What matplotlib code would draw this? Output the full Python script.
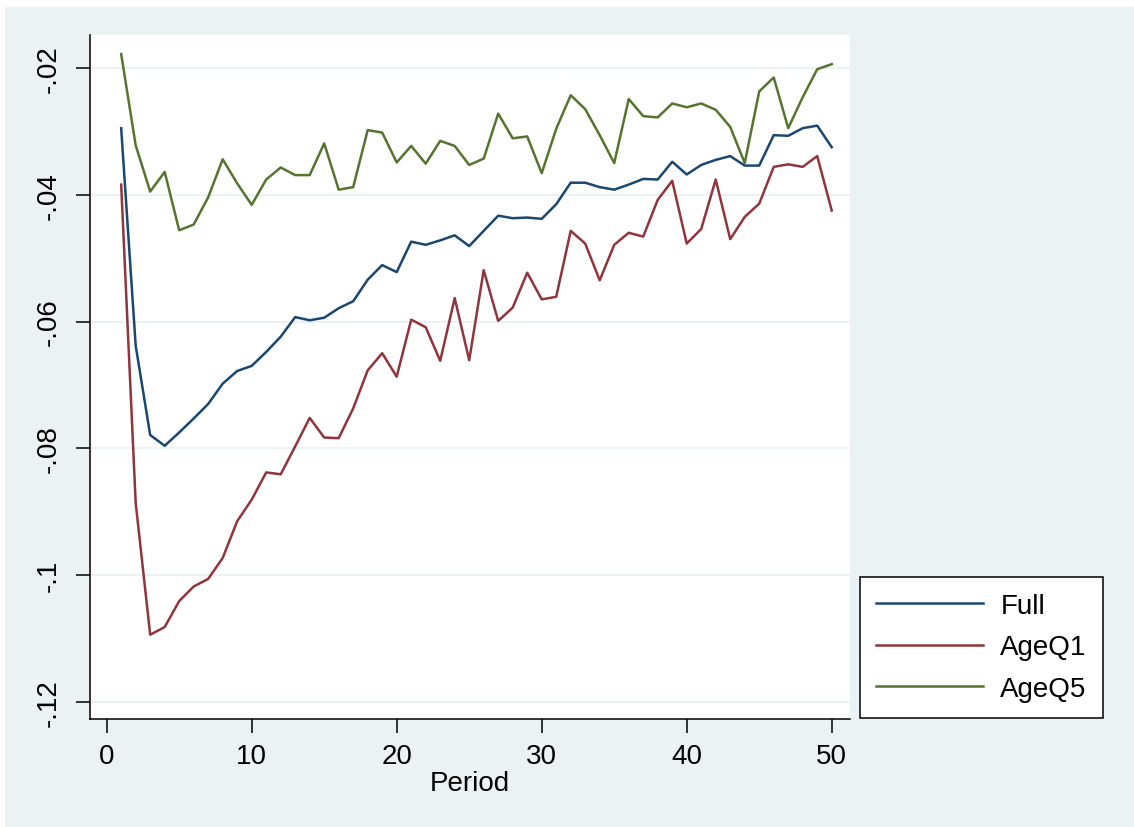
import matplotlib
matplotlib.use("Agg")
from matplotlib import pyplot as plt
from matplotlib.patches import Rectangle

plt.rcParams["font.family"] = ["Liberation Sans", "DejaVu Sans"]

# --- Data ---
period = list(range(1, 51))

full = [-0.0295, -0.0638, -0.0779, -0.0796, -0.0775, -0.0753, -0.0730, -0.0698, -0.0678, -0.0670,
        -0.0648, -0.0624, -0.0593, -0.0598, -0.0594, -0.0579, -0.0568, -0.0534, -0.0511, -0.0522,
        -0.0474, -0.0479, -0.0472, -0.0464, -0.0481, -0.0457, -0.0433, -0.0437, -0.0436, -0.0438,
        -0.0415, -0.0381, -0.0381, -0.0388, -0.0392, -0.0384, -0.0375, -0.0376, -0.0348, -0.0368,
        -0.0353, -0.0345, -0.0339, -0.0354, -0.0354, -0.0306, -0.0307, -0.0295, -0.0291, -0.0325]

age_q1 = [-0.0384, -0.0886, -0.1094, -0.1082, -0.1041, -0.1018, -0.1006, -0.0973, -0.0915, -0.0881,
          -0.0838, -0.0841, -0.0797, -0.0752, -0.0783, -0.0784, -0.0737, -0.0677, -0.0650, -0.0687,
          -0.0597, -0.0609, -0.0662, -0.0563, -0.0661, -0.0519, -0.0599, -0.0578, -0.0523, -0.0565,
          -0.0561, -0.0457, -0.0477, -0.0535, -0.0479, -0.0460, -0.0466, -0.0408, -0.0378, -0.0477,
          -0.0454, -0.0376, -0.0470, -0.0435, -0.0414, -0.0356, -0.0352, -0.0356, -0.0339, -0.0425]

age_q5 = [-0.0178, -0.0322, -0.0395, -0.0364, -0.0456, -0.0447, -0.0404, -0.0344, -0.0382, -0.0416,
          -0.0376, -0.0357, -0.0369, -0.0369, -0.0319, -0.0392, -0.0388, -0.0298, -0.0302, -0.0349,
          -0.0323, -0.0351, -0.0315, -0.0323, -0.0353, -0.0343, -0.0272, -0.0311, -0.0308, -0.0366,
          -0.0296, -0.0243, -0.0265, -0.0306, -0.0350, -0.0249, -0.0276, -0.0278, -0.0256, -0.0262,
          -0.0256, -0.0266, -0.0293, -0.0350, -0.0237, -0.0215, -0.0295, -0.0246, -0.0202, -0.0194]

x_ticks = [0, 10, 20, 30, 40, 50]
y_ticks = [-0.12, -0.10, -0.08, -0.06, -0.04, -0.02]
y_tick_labels = ["-.12", "-.1", "-.08", "-.06", "-.04", "-.02"]

W, H = 1134, 828
bg = "#EAF2F3"

fig = plt.figure(figsize=(W / 100, H / 100), dpi=100)
fig.patch.set_facecolor("white")
fig.patches.append(Rectangle((5 / W, 0), 1, 1 - 8 / H, transform=fig.transFigure,
                             facecolor=bg, edgecolor="none", zorder=-1))

ax = fig.add_axes([90 / W, 1 - 720 / H, 760 / W, 684 / H])
ax.set_facecolor("white")

ax.plot(period, full, color="#1A476F", lw=1.8, label="Full")
ax.plot(period, age_q1, color="#90353B", lw=1.8, label="AgeQ1")
ax.plot(period, age_q5, color="#55752F", lw=1.8, label="AgeQ5")

ax.set_xlim(-1.15, 51.26)
ax.set_ylim(-0.1227, -0.0148)
ax.set_xticks(x_ticks)
ax.set_yticks(y_ticks)
ax.set_yticklabels(y_tick_labels, rotation=90, va="center")
ax.tick_params(axis="both", labelsize=20, length=10, width=1.1, color="black")
ax.tick_params(axis="y", pad=10)
ax.tick_params(axis="x", pad=7)
ax.grid(axis="y", color=bg, lw=1.5)
ax.set_axisbelow(True)

for side in ["top", "right"]:
    ax.spines[side].set_visible(False)
for side in ["left", "bottom"]:
    ax.spines[side].set_linewidth(1.1)
    ax.spines[side].set_color("black")

ax.set_xlabel("Period", fontsize=20, labelpad=1)

leg = fig.legend(loc="upper left", bbox_to_anchor=(860 / W, 1 - 578 / H), fontsize=20,
                 handlelength=3.85, handletextpad=0.62, labelspacing=0.55, borderpad=0.58,
                 borderaxespad=0, fancybox=False, framealpha=1)
leg.get_frame().set_edgecolor("black")
leg.get_frame().set_linewidth(1.1)

fig.savefig("out.png", dpi=100, facecolor=fig.get_facecolor())
